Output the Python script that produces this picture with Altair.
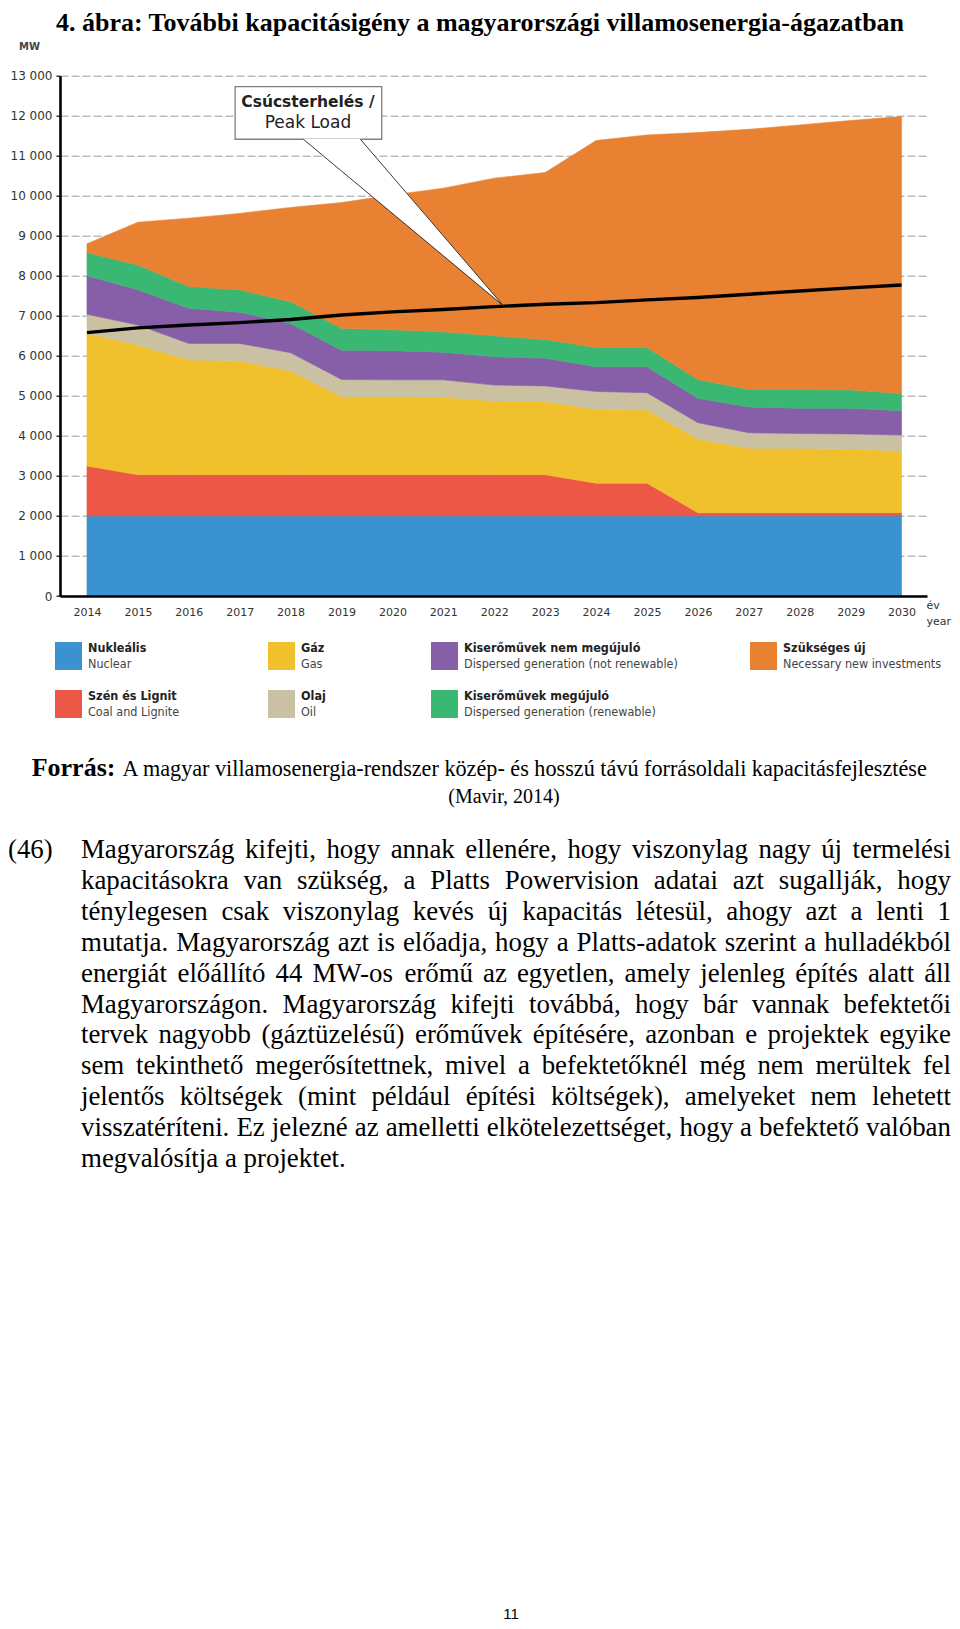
import unicodedata
import altair as alt
import pandas as pd

# ---------------- data ----------------
years = [2014, 2015, 2016, 2017, 2018, 2019, 2020, 2021, 2022,
         2023, 2024, 2025, 2026, 2027, 2028, 2029, 2030]

categories = ["Nukleális", "Szén és Lignit", "Gáz", "Olaj",
              "Kiserőművek nem megújuló", "Kiserőművek megújuló", "Szükséges új"]
categories_en = ["Nuclear", "Coal and Lignite", "Gas", "Oil",
                 "Dispersed generation (not renewable)",
                 "Dispersed generation (renewable)", "Necessary new investments"]
colors = ["#3a93d0", "#ec5746", "#f0c12c", "#c9c1a1", "#875ea8", "#3bb774", "#e98133"]

nuclear = [2000, 2000, 2000, 2000, 2000, 2000, 2000, 2000, 2000,
           2000, 2000, 2000, 2000, 2000, 2000, 2000, 2000]
coal = [1250, 1030, 1030, 1030, 1030, 1030, 1030, 1030, 1030,
        1030, 820, 820, 80, 80, 80, 80, 80]
gas = [3310, 3240, 2870, 2840, 2590, 1950, 1950, 1940, 1840,
       1830, 1840, 1830, 1840, 1610, 1610, 1590, 1540]
oil = [480, 500, 410, 440, 460, 430, 420, 430, 400,
       390, 450, 430, 410, 390, 370, 380, 400]
dispersed_nonrenew = [960, 880, 880, 780, 730, 730, 730, 690, 710,
                      690, 620, 650, 610, 640, 630, 640, 610]
dispersed_renew = [580, 620, 540, 560, 540, 550, 520, 510, 520,
                   470, 480, 480, 470, 440, 470, 460, 430]
necessary_new = [220, 1070, 1710, 1910, 2360, 3140, 3370, 3590, 3940,
                 4170, 5170, 5310, 6170, 6500, 6610, 6730, 6920]
peak_load = [6580, 6700, 6770, 6830, 6910, 7020, 7100, 7160, 7230,
             7290, 7330, 7400, 7460, 7540, 7620, 7700, 7770]

y_ticks = [0, 1000, 2000, 3000, 4000, 5000, 6000, 7000, 8000, 9000,
           10000, 11000, 12000, 13000]

# callout (data coordinates)
callout_box_x = [2016.91, 2019.79]
callout_box_y = [11412, 12726]
callout_text_pos = [2018.34, 12351, 11811]
tri_x = [2018.25, 2019.37, 2022.18]
tri_top = [11425, 11425, 7250]
tri_bottom = [11412, 10226, 7250]

title_text = "4. ábra: További kapacitásigény a magyarországi villamosenergia-ágazatban"
source_bold = "Forrás:"
source_text = "A magyar villamosenergia-rendszer közép- és hosszú távú forrásoldali kapacitásfejlesztése"
source_text2 = "(Mavir, 2014)"
para_num = "(46)"
para_lines = [
    "Magyarország kifejti, hogy annak ellenére, hogy viszonylag nagy új termelési",
    "kapacitásokra van szükség, a Platts Powervision adatai azt sugallják, hogy",
    "ténylegesen csak viszonylag kevés új kapacitás létesül, ahogy azt a lenti 1",
    "mutatja. Magyarország azt is előadja, hogy a Platts-adatok szerint a hulladékból",
    "energiát előállító 44 MW-os erőmű az egyetlen, amely jelenleg építés alatt áll",
    "Magyarországon. Magyarország kifejti továbbá, hogy bár vannak befektetői",
    "tervek nagyobb (gáztüzelésű) erőművek építésére, azonban e projektek egyike",
    "sem tekinthető megerősítettnek, mivel a befektetőknél még nem merültek fel",
    "jelentős költségek (mint például építési költségek), amelyeket nem lehetett",
    "visszatéríteni. Ez jelezné az amelletti elkötelezettséget, hogy a befektető valóban",
    "megvalósítja a projektet.",
]
page_number = "11"

# ---------------- layout ----------------
OX, OY = 60.0, 75.7            # plot origin in page coordinates
PLOT_W, PLOT_H = 867, 520.3
SVG_W, SVG_H = 944, 1613
PAD = {"left": OX - 8, "top": OY - 8, "right": SVG_W - (OX - 8) - PLOT_W,
       "bottom": SVG_H - (OY - 8) - PLOT_H}

AXF = "DejaVu Sans"
SERIF = "Liberation Serif"
LEGF = "Liberation Sans Narrow, DejaVu Sans Condensed, Liberation Sans, Arial"

ONE = alt.Data(values=[{"o": 1}])

x_scale = alt.Scale(domain=[2013.47, 2030.5], nice=False, zero=False)
y_scale = alt.Scale(domain=[0, 13000], nice=False, zero=True)

series = [nuclear, coal, gas, oil, dispersed_nonrenew, dispersed_renew, necessary_new]
rows = []
for k, (cat, vals) in enumerate(zip(categories, series)):
    for yr, v in zip(years, vals):
        rows.append({"year": yr, "cat": cat, "value": v, "k": k})
df = pd.DataFrame(rows)

areas = alt.Chart(df).mark_area(interpolate="linear", strokeWidth=0.6).encode(
    x=alt.X("year:Q", scale=x_scale, title=None,
            axis=alt.Axis(values=years, format="d", grid=False, ticks=False,
                          domainColor="black", domainWidth=2.6, labelFont=AXF,
                          labelFontSize=11, labelColor="#333", labelPadding=10,
                          zindex=1)),
    y=alt.Y("value:Q", stack="zero", scale=y_scale, title=None,
            axis=alt.Axis(values=y_ticks,
                          labelExpr="replace(format(datum.value, ','), ',', ' ')",
                          grid=True, gridDash=[8, 3], gridColor="#9b9b9b", gridWidth=1,
                          domainColor="black", domainWidth=2.6, tickColor="black",
                          tickSize=4, tickWidth=1.2, labelFont=AXF, labelFontSize=12,
                          labelColor="#333", labelPadding=4)),
    color=alt.Color("cat:N", scale=alt.Scale(domain=categories, range=colors), legend=None),
    stroke=alt.Stroke("cat:N", scale=alt.Scale(domain=categories, range=colors), legend=None),
    order=alt.Order("k:Q", sort="ascending"),
)

peak_df = pd.DataFrame({"year": years, "peak": peak_load})
peak_line = alt.Chart(peak_df).mark_line(color="black", strokeWidth=3.4).encode(
    x=alt.X("year:Q", scale=x_scale, title=None),
    y=alt.Y("peak:Q", scale=y_scale, title=None),
)

box_df = pd.DataFrame({"x0": [callout_box_x[0]], "x1": [callout_box_x[1]],
                       "y0": [callout_box_y[0]], "y1": [callout_box_y[1]]})
box = alt.Chart(box_df).mark_rect(fill="white", stroke="#808080", strokeWidth=1.3).encode(
    x=alt.X("x0:Q", scale=x_scale, title=None), x2="x1:Q",
    y=alt.Y("y0:Q", scale=y_scale, title=None), y2="y1:Q",
)

tri_df = pd.DataFrame({"x": tri_x, "top": tri_top, "bottom": tri_bottom})
tri = alt.Chart(tri_df).mark_area(color="white", interpolate="linear").encode(
    x=alt.X("x:Q", scale=x_scale, title=None),
    y=alt.Y("top:Q", scale=y_scale, title=None), y2="bottom:Q",
)
edge_df = pd.DataFrame({
    "edge": ["a", "a", "b", "b"],
    "x": [tri_x[0], tri_x[2], tri_x[1], tri_x[2]],
    "y": [tri_bottom[0], tri_bottom[2], callout_box_y[0], tri_bottom[2]],
})
edges = alt.Chart(edge_df).mark_line(color="#222", strokeWidth=0.9).encode(
    x=alt.X("x:Q", scale=x_scale, title=None),
    y=alt.Y("y:Q", scale=y_scale, title=None),
    detail="edge:N",
)

ct_df = pd.DataFrame({"x": [callout_text_pos[0], callout_text_pos[0]],
                      "y": [callout_text_pos[1], callout_text_pos[2]],
                      "t": ["Csúcsterhelés /", "Peak Load"],
                      "w": ["bold", "normal"]})
ct1 = alt.Chart(ct_df).transform_filter("datum.w == 'bold'").mark_text(
    font=AXF, fontSize=15.5, fontWeight="bold", color="#222", baseline="middle"
).encode(x=alt.X("x:Q", scale=x_scale, title=None),
         y=alt.Y("y:Q", scale=y_scale, title=None), text="t:N")
ct2 = alt.Chart(ct_df).transform_filter("datum.w == 'normal'").mark_text(
    font=AXF, fontSize=17, color="#222", baseline="middle"
).encode(x=alt.X("x:Q", scale=x_scale, title=None),
         y=alt.Y("y:Q", scale=y_scale, title=None), text="t:N")


def page_text(text, px, py, size, font, weight="normal", align="left",
              baseline="alphabetic", color="#000"):
    return alt.Chart(ONE).mark_text(
        text=text, font=font, fontSize=size, fontWeight=weight, align=align,
        baseline=baseline, color=color,
    ).encode(x=alt.value(px - OX), y=alt.value(py - OY))


# Times/Liberation Serif advance widths (1/1000 em)
_W = {" ": 250, "!": 333, "(": 333, ")": 333, ",": 250, "-": 333, ".": 250,
      ":": 278, ";": 278}
for c in "0123456789":
    _W[c] = 500
for c, w in zip("ABCDEFGHIJKLMNOPQRSTUVWXYZ",
                [722, 667, 667, 722, 611, 556, 722, 722, 333, 389, 722, 611, 889,
                 722, 722, 556, 722, 667, 556, 611, 722, 722, 944, 722, 722, 611]):
    _W[c] = w
for c, w in zip("abcdefghijklmnopqrstuvwxyz",
                [444, 500, 444, 500, 444, 333, 500, 500, 278, 278, 500, 278, 778,
                 500, 500, 500, 500, 333, 389, 278, 500, 500, 722, 500, 500, 444]):
    _W[c] = w


def tw(s):
    tot = 0
    for ch in s:
        base = unicodedata.normalize("NFD", ch)[0]
        tot += _W.get(base, 500)
    return tot / 1000.0


layers = [areas, peak_line, box, tri, edges, ct1, ct2]

# title
layers.append(page_text(title_text, 480, 31.5, 26, SERIF, "bold", "center"))
# axis captions
layers.append(page_text("MW", 19, 50, 10, AXF, "bold", "left", color="#444"))
layers.append(page_text("év", 926.5, 609, 11, AXF, "normal", "left", color="#333"))
layers.append(page_text("year", 926.5, 625, 11, AXF, "normal", "left", color="#333"))

# legend
leg_col = [0, 0, 1, 1, 2, 2, 3]
leg_row = [0, 1, 0, 1, 0, 1, 0]
LEG_COL_X = [55, 268, 431, 750]
LEG_ROW_Y = [642, 690]
for i, cat in enumerate(categories):
    sx = LEG_COL_X[leg_col[i]]
    sy = LEG_ROW_Y[leg_row[i]]
    layers.append(alt.Chart(ONE).mark_rect(color=colors[i]).encode(
        x=alt.value(sx - OX), x2=alt.value(sx + 27 - OX),
        y=alt.value(sy - OY), y2=alt.value(sy + 28 - OY)))
    layers.append(page_text(cat, sx + 33, sy + 10, 12.5, LEGF, "bold", color="#222"))
    layers.append(page_text(categories_en[i], sx + 33, sy + 26, 12.5, LEGF, "normal",
                            color="#444"))

# source
layers.append(page_text(source_bold, 31.7, 776, 26, SERIF, "bold"))
layers.append(page_text(source_text, 122.6, 776, 22.2, SERIF))
layers.append(page_text(source_text2, 504, 803, 20, SERIF, "normal", "center"))

# paragraph, justified
BODY_X0, BODY_X1 = 81, 951
BODY_W = BODY_X1 - BODY_X0
max_em = max(tw(l) for l in para_lines[:-1])
BODY_SIZE = min(27.0, BODY_W / max_em * 0.997)
BASE0, LEAD = 858, 30.9
layers.append(page_text(para_num, 8, BASE0, BODY_SIZE, SERIF))
for li, line in enumerate(para_lines):
    words = line.split(" ")
    ws = [tw(w) * BODY_SIZE for w in words]
    last = li == len(para_lines) - 1
    if last or len(words) == 1:
        gap = 0.25 * BODY_SIZE
    else:
        gap = (BODY_W - sum(ws)) / (len(words) - 1)
    x = BODY_X0
    yb = BASE0 + li * LEAD
    for w, wd in zip(words, ws):
        layers.append(page_text(w, x, yb, BODY_SIZE, SERIF))
        x += wd + gap

# page number
layers.append(page_text(page_number, 511, 1619, 15, "Liberation Sans", "normal", "center"))

chart = alt.layer(*layers).properties(
    width=PLOT_W, height=PLOT_H,
    autosize=alt.AutoSizeParams(type="none"),
    padding=PAD,
    background="white",
).configure_view(stroke=None)

chart.save("out.html", embed_options={"renderer": "svg", "actions": False})
